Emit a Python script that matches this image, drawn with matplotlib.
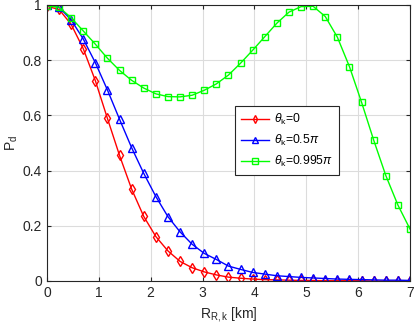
import numpy as np
import matplotlib
matplotlib.use('Agg')
import matplotlib.pyplot as plt

plt.rcParams['font.family'] = ['Liberation Sans', 'DejaVu Sans']
plt.rcParams['mathtext.fontset'] = 'custom'
plt.rcParams['mathtext.rm'] = 'Liberation Sans'
plt.rcParams['mathtext.it'] = 'Liberation Sans:italic'

# R_{R,k} [km], 31 points from 0 to 7
r_km = np.linspace(0, 7, 31)

pd_theta0 = [0.995, 0.984, 0.930, 0.842, 0.726, 0.589, 0.455, 0.333, 0.234, 0.161,
             0.109, 0.071, 0.048, 0.033, 0.022, 0.014, 0.010, 0.007, 0.005, 0.004,
             0.003, 0.002, 0.002, 0.001, 0.001, 0.001, 0.001, 0.000, 0.000, 0.000, 0.000]

pd_theta05 = [1.000, 0.992, 0.946, 0.877, 0.791, 0.692, 0.586, 0.483, 0.390, 0.306,
              0.233, 0.178, 0.133, 0.100, 0.078, 0.054, 0.042, 0.031, 0.025, 0.019,
              0.016, 0.013, 0.011, 0.009, 0.007, 0.006, 0.005, 0.004, 0.003, 0.003, 0.002]

pd_theta0995 = [0.996, 0.992, 0.954, 0.906, 0.858, 0.807, 0.763, 0.727, 0.699, 0.678,
                0.668, 0.667, 0.673, 0.691, 0.714, 0.746, 0.789, 0.836, 0.885, 0.934,
                0.974, 0.994, 0.995, 0.958, 0.883, 0.776, 0.647, 0.510, 0.382, 0.275, 0.188]

labels = [r'$\it{\theta}_{\rm k}$=0', r'$\it{\theta}_{\rm k}$=0.5$\it{\pi}$',
          r'$\it{\theta}_{\rm k}$=0.995$\it{\pi}$']

fig = plt.figure(figsize=(4.15, 3.3), dpi=100)
ax = fig.add_axes([0.113, 0.1485, 0.875, 0.8365])

ax.plot(r_km, pd_theta0, color='red', marker='d', mfc='none', ms=5.5, lw=1, label=labels[0])
ax.plot(r_km, pd_theta05, color='blue', marker='^', mfc='none', ms=6, lw=1, label=labels[1])
ax.plot(r_km, pd_theta0995, color='#00ff00', marker='s', mfc='none', ms=5, lw=1, label=labels[2])

ax.set_xlim(0, 7)
ax.set_ylim(0, 1)
ax.set_xticks(range(8))
ax.set_yticks([0, 0.2, 0.4, 0.6, 0.8, 1])
ax.set_yticklabels(['0', '0.2', '0.4', '0.6', '0.8', '1'])
ax.grid(True, color='#dcdcdc', lw=0.8)
ax.set_axisbelow(True)
ax.tick_params(direction='in', top=True, right=True, labelsize=10, colors='#262626', length=3)
for s in ax.spines.values():
    s.set_color('#262626')
    s.set_linewidth(0.8)

ax.set_xlabel(r'R$_{\rm R,k}$ [km]', fontsize=10, color='#262626', labelpad=4)
ax.set_ylabel(r'P$_{\rm d}$', fontsize=10, color='#262626', labelpad=2)

leg = ax.legend(loc='upper left', bbox_to_anchor=(0.518, 0.634), fontsize=8.7,
                fancybox=False, framealpha=1, edgecolor='#262626', borderpad=0.5,
                handlelength=2.3, handletextpad=0.4, markerscale=0.75,
                labelspacing=0.5, borderaxespad=0)
leg.get_frame().set_linewidth(0.8)

plt.savefig('out.png', dpi=100)
plt.close()
